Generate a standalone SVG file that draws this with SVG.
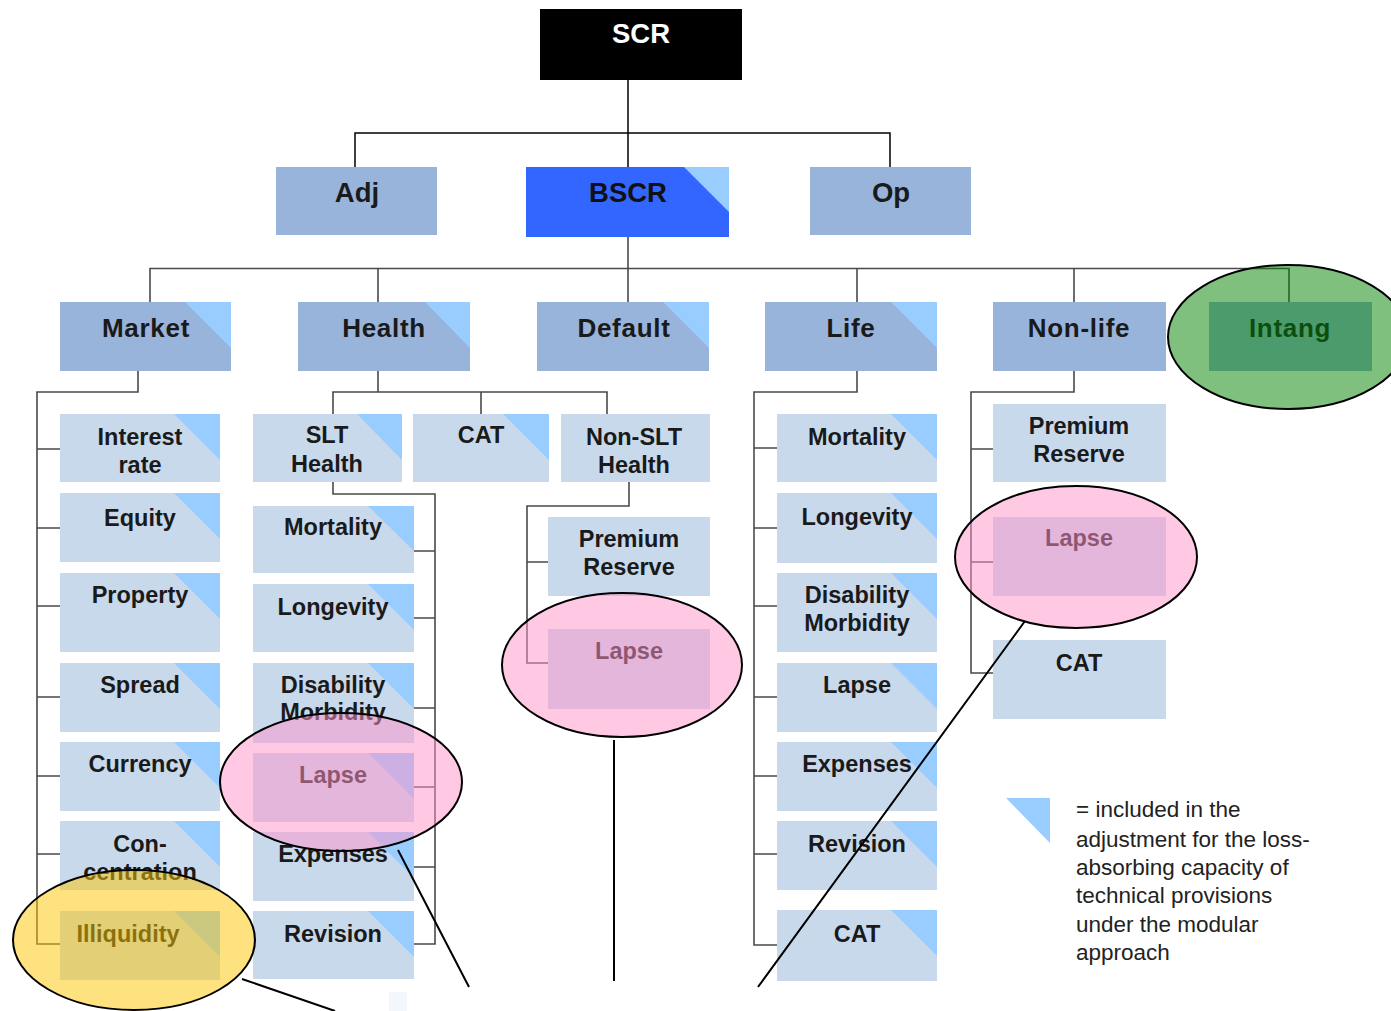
<svg xmlns="http://www.w3.org/2000/svg" width="1391" height="1011" viewBox="0 0 1391 1011">
<defs>
<style>
.mb{fill:#98b4da}
.sb{fill:#c9d9ec}
.tri{fill:#99ccff}
.conn{stroke:#4a4a4a;stroke-width:1.6;fill:none}
.topc{stroke:#000;stroke-width:1.5;fill:none}
.lbl{font-family:"Liberation Sans",Arial,sans-serif;font-weight:bold;text-anchor:middle;fill:#1a1a1a}
.tl{font-size:27.5px}
.ml{font-size:26px;letter-spacing:0.7px}
.sl{font-size:23.5px}
.ell{stroke:#000;stroke-width:2}
.pink{fill:#ff93c9;fill-opacity:0.5}
.yel{fill:#fbc500;fill-opacity:0.5}
.grn{fill:#008100;fill-opacity:0.5}
.ptr{stroke:#000;stroke-width:2;fill:none}
.leg{font-family:"Liberation Sans",Arial,sans-serif;font-size:22.5px;fill:#222}
</style>
</defs>
<rect width="1391" height="1011" fill="#fff"/>

<g id="connectors">
<path class="topc" d="M628,79 V167 M355,167 V133 H890 V167"/>
<path class="conn" d="M628,237 V302 M150,302 V268.5 H1289 V302 M378,268.5 V302 M857,268.5 V302 M1074,268.5 V302"/>
<path class="conn" d="M138,371 V392 H37 V944 H60 M37,449 H60 M37,528 H60 M37,606 H60 M37,697 H60 M37,776 H60 M37,854 H60"/>
<path class="conn" d="M378,371 V392 M333,414 V392 H607 V414 M481,392 V414"/>
<path class="conn" d="M333,482 V494 H435 V944 H414 M435,551 H414 M435,618 H414 M435,708 H414 M435,787 H414 M435,867 H414"/>
<path class="conn" d="M629,482 V506 H527 V663 H548 M527,562 H548"/>
<path class="conn" d="M857,371 V392 H754 V945 H777 M754,448 H777 M754,528 H777 M754,606 H777 M754,697 H777 M754,776 H777 M754,854 H777"/>
<path class="conn" d="M1074,371 V392 H971 V673 H993 M971,449 H993 M971,562 H993"/>
</g>

<g id="scr"><rect x="540" y="9" width="202" height="71" fill="#000"/><text class="lbl tl" x="641" y="43" style="fill:#fff">SCR</text></g>
<g id="adj"><rect class="mb" x="276" y="167" width="161" height="68"/><text class="lbl tl" x="357" y="202">Adj</text></g>
<g id="bscr"><rect x="526" y="167" width="203" height="70" fill="#3366ff"/><polygon class="tri" points="684,167 729,167 729,212"/><text class="lbl tl" x="628" y="202" style="fill:#111">BSCR</text></g>
<g id="op"><rect class="mb" x="810" y="167" width="161" height="68"/><text class="lbl tl" x="891" y="202">Op</text></g>

<g id="market"><rect class="mb" x="60" y="302" width="171" height="69"/><polygon class="tri" points="185,302 231,302 231,348"/><text class="lbl ml" x="146" y="337">Market</text></g>
<g id="health"><rect class="mb" x="298" y="302" width="172" height="69"/><polygon class="tri" points="425,302 470,302 470,348"/><text class="lbl ml" x="384" y="337">Health</text></g>
<g id="default"><rect class="mb" x="537" y="302" width="172" height="69"/><polygon class="tri" points="663,302 709,302 709,348"/><text class="lbl ml" x="624" y="337">Default</text></g>
<g id="life"><rect class="mb" x="765" y="302" width="172" height="69"/><polygon class="tri" points="891,302 937,302 937,348"/><text class="lbl ml" x="851" y="337">Life</text></g>
<g id="nonlife"><rect class="mb" x="993" y="302" width="173" height="69"/><text class="lbl ml" x="1079" y="337">Non-life</text></g>
<g id="intang"><rect class="mb" x="1209" y="302" width="163" height="69"/><text class="lbl ml" x="1290" y="337">Intang</text></g>

<g id="m-interest"><rect class="sb" x="60" y="414" width="160" height="68"/><polygon class="tri" points="174,414 220,414 220,460"/><text class="lbl sl" x="140" y="445">Interest</text><text class="lbl sl" x="140" y="473">rate</text></g>
<g id="m-equity"><rect class="sb" x="60" y="493" width="160" height="69"/><polygon class="tri" points="174,493 220,493 220,539"/><text class="lbl sl" x="140" y="526">Equity</text></g>
<g id="m-property"><rect class="sb" x="60" y="573" width="160" height="79"/><polygon class="tri" points="174,573 220,573 220,619"/><text class="lbl sl" x="140" y="603">Property</text></g>
<g id="m-spread"><rect class="sb" x="60" y="663" width="160" height="69"/><polygon class="tri" points="174,663 220,663 220,709"/><text class="lbl sl" x="140" y="693">Spread</text></g>
<g id="m-currency"><rect class="sb" x="60" y="742" width="160" height="69"/><polygon class="tri" points="174,742 220,742 220,788"/><text class="lbl sl" x="140" y="772">Currency</text></g>
<g id="m-concentration"><rect class="sb" x="60" y="821" width="160" height="69"/><polygon class="tri" points="174,821 220,821 220,867"/><text class="lbl sl" x="140" y="852">Con-</text><text class="lbl sl" x="140" y="880">centration</text></g>
<g id="m-illiquidity"><rect class="sb" x="60" y="911" width="160" height="69"/><polygon class="tri" points="174,911 220,911 220,957"/><text class="lbl sl" x="128" y="942">Illiquidity</text></g>

<g id="h-slt"><rect class="sb" x="253" y="414" width="149" height="68"/><polygon class="tri" points="357,414 402,414 402,460"/><text class="lbl sl" x="327" y="443">SLT</text><text class="lbl sl" x="327" y="472">Health</text></g>
<g id="h-cat"><rect class="sb" x="413" y="414" width="136" height="68"/><polygon class="tri" points="503,414 549,414 549,460"/><text class="lbl sl" x="481" y="443">CAT</text></g>
<g id="h-nonslt"><rect class="sb" x="561" y="414" width="149" height="68"/><text class="lbl sl" x="634" y="445">Non-SLT</text><text class="lbl sl" x="634" y="473">Health</text></g>

<g id="h-mortality"><rect class="sb" x="253" y="506" width="161" height="67"/><polygon class="tri" points="368,506 414,506 414,551"/><text class="lbl sl" x="333" y="535">Mortality</text></g>
<g id="h-longevity"><rect class="sb" x="253" y="584" width="161" height="68"/><polygon class="tri" points="368,584 414,584 414,630"/><text class="lbl sl" x="333" y="615">Longevity</text></g>
<g id="h-disability"><rect class="sb" x="253" y="663" width="161" height="80"/><polygon class="tri" points="368,663 414,663 414,709"/><text class="lbl sl" x="333" y="693">Disability</text><text class="lbl sl" x="333" y="720">Morbidity</text></g>
<g id="h-lapse"><rect class="sb" x="253" y="753" width="161" height="69"/><polygon class="tri" points="368,753 414,753 414,799"/><text class="lbl sl" x="333" y="783">Lapse</text></g>
<g id="h-expenses"><rect class="sb" x="253" y="832" width="161" height="69"/><polygon class="tri" points="368,832 414,832 414,878"/><text class="lbl sl" x="333" y="862">Expenses</text></g>
<g id="h-revision"><rect class="sb" x="253" y="911" width="161" height="68"/><polygon class="tri" points="368,911 414,911 414,957"/><text class="lbl sl" x="333" y="942">Revision</text></g>

<g id="n-premium"><rect class="sb" x="548" y="517" width="162" height="79"/><text class="lbl sl" x="629" y="547">Premium</text><text class="lbl sl" x="629" y="575">Reserve</text></g>
<g id="n-lapse"><rect class="sb" x="548" y="629" width="162" height="80"/><text class="lbl sl" x="629" y="659">Lapse</text></g>

<g id="l-mortality"><rect class="sb" x="777" y="414" width="160" height="68"/><polygon class="tri" points="891,414 937,414 937,460"/><text class="lbl sl" x="857" y="445">Mortality</text></g>
<g id="l-longevity"><rect class="sb" x="777" y="493" width="160" height="70"/><polygon class="tri" points="891,493 937,493 937,539"/><text class="lbl sl" x="857" y="525">Longevity</text></g>
<g id="l-disability"><rect class="sb" x="777" y="573" width="160" height="79"/><polygon class="tri" points="891,573 937,573 937,619"/><text class="lbl sl" x="857" y="603">Disability</text><text class="lbl sl" x="857" y="631">Morbidity</text></g>
<g id="l-lapse"><rect class="sb" x="777" y="663" width="160" height="69"/><polygon class="tri" points="891,663 937,663 937,709"/><text class="lbl sl" x="857" y="693">Lapse</text></g>
<g id="l-expenses"><rect class="sb" x="777" y="742" width="160" height="69"/><polygon class="tri" points="891,742 937,742 937,788"/><text class="lbl sl" x="857" y="772">Expenses</text></g>
<g id="l-revision"><rect class="sb" x="777" y="821" width="160" height="69"/><polygon class="tri" points="891,821 937,821 937,867"/><text class="lbl sl" x="857" y="852">Revision</text></g>
<g id="l-cat"><rect class="sb" x="777" y="910" width="160" height="71"/><polygon class="tri" points="891,910 937,910 937,956"/><text class="lbl sl" x="857" y="942">CAT</text></g>

<g id="nl-premium"><rect class="sb" x="993" y="404" width="173" height="78"/><text class="lbl sl" x="1079" y="434">Premium</text><text class="lbl sl" x="1079" y="462">Reserve</text></g>
<g id="nl-lapse"><rect class="sb" x="993" y="517" width="173" height="79"/><text class="lbl sl" x="1079" y="546">Lapse</text></g>
<g id="nl-cat"><rect class="sb" x="993" y="640" width="173" height="79"/><text class="lbl sl" x="1079" y="671">CAT</text></g>

<rect x="389" y="992" width="18" height="19" fill="#f3f6fc"/>

<g id="highlights">
<ellipse class="ell grn" cx="1288" cy="337" rx="120" ry="72"/>
<ellipse class="ell pink" cx="341" cy="782" rx="121" ry="69"/>
<ellipse class="ell pink" cx="622" cy="665" rx="120" ry="72"/>
<ellipse class="ell pink" cx="1076" cy="557" rx="121" ry="71"/>
<ellipse class="ell yel" cx="134" cy="940" rx="121" ry="70"/>
<path class="ptr" d="M242,979 L335,1011 M398,850 L469,987 M614,740 V981 M1025,621 L758,987"/>
</g>

<g id="legend">
<polygon class="tri" points="1006,798 1050,798 1050,843"/>
<text class="leg" x="1076" y="817">= included in the</text>
<text class="leg" x="1076" y="847">adjustment for the loss-</text>
<text class="leg" x="1076" y="875">absorbing capacity of</text>
<text class="leg" x="1076" y="903">technical provisions</text>
<text class="leg" x="1076" y="932">under the modular</text>
<text class="leg" x="1076" y="960">approach</text>
</g>
</svg>
